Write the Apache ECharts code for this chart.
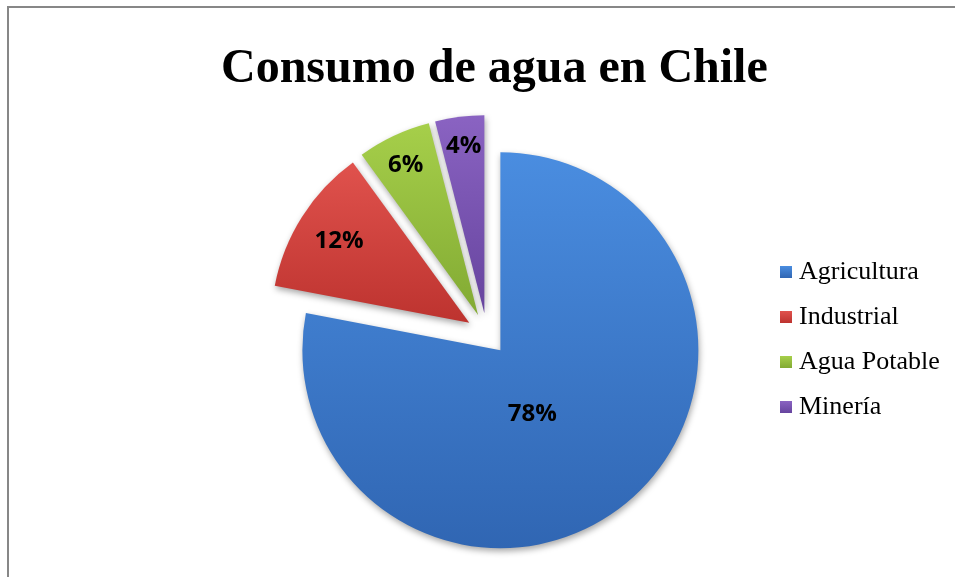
<!DOCTYPE html>
<html>
<head>
<meta charset="utf-8">
<script src="https://cdn.jsdelivr.net/npm/echarts@6/dist/echarts.min.js"></script>
<style>
html,body{margin:0;padding:0;background:#fff;}
#c{width:955px;height:577px;}
</style>
</head>
<body>
<div id="c"></div>
<script>
var title = 'Consumo de agua en Chile';
var categories = ['Agricultura', 'Industrial', 'Agua Potable', 'Minería'];
var values = [78, 12, 6, 4];

var colorTop = ['#4a8de0', '#e0524d', '#a6cf4a', '#8a63c2'];
var colorBottom = ['#3066b3', '#bd332f', '#82aa33', '#66449e'];
var labelNudge = [[-33, -15], [-44, -27], [-29, -58], [-8, -66]];

var chart = echarts.init(document.getElementById('c'), null, {renderer: 'canvas'});

var data = categories.map(function (name, i) {
  return {
    name: name,
    value: values[i],
    selected: true,
    itemStyle: {
      color: new echarts.graphic.LinearGradient(0, 0, 0, 1, [
        {offset: 0, color: colorTop[i]},
        {offset: 1, color: colorBottom[i]}
      ])
    }
  };
});

chart.setOption({
  animation: false,
  backgroundColor: '#ffffff',
  graphic: [{
    type: 'rect',
    shape: {x: 8, y: 7, width: 1200, height: 1200},
    style: {fill: 'none', stroke: '#878787', lineWidth: 2},
    silent: true
  }],
  title: {
    text: title,
    left: 216,
    top: 41,
    textStyle: {
      fontFamily: 'Liberation Serif',
      fontWeight: 'bold',
      fontSize: 48,
      color: '#000'
    }
  },
  legend: {
    orient: 'vertical',
    left: 775,
    top: 254,
    icon: 'rect',
    itemWidth: 12,
    itemHeight: 12,
    itemGap: 19,
    data: categories,
    textStyle: {
      fontFamily: 'Liberation Serif',
      fontSize: 26,
      lineHeight: 26,
      color: '#000',
      padding: [0, 0, 0, 2]
    }
  },
  series: [{
    type: 'pie',
    center: [487, 334],
    radius: [0, 198],
    startAngle: 90,
    clockwise: true,
    selectedMode: 'multiple',
    selectedOffset: 21,
    avoidLabelOverlap: false,
    itemStyle: {
      shadowBlur: 6,
      shadowColor: 'rgba(0,0,0,0.35)',
      shadowOffsetX: 1,
      shadowOffsetY: 3
    },
    emphasis: {disabled: true},
    label: {
      show: true,
      position: 'inside',
      formatter: function (p) { return p.value + '%'; },
      fontFamily: 'Open Sans',
      fontWeight: 'bold',
      fontSize: 24,
      color: '#000'
    },
    labelLine: {show: false},
    labelLayout: function (p) {
      var n = labelNudge[p.dataIndex];
      return {dx: n[0], dy: n[1]};
    },
    data: data
  }]
});
</script>
</body>
</html>
